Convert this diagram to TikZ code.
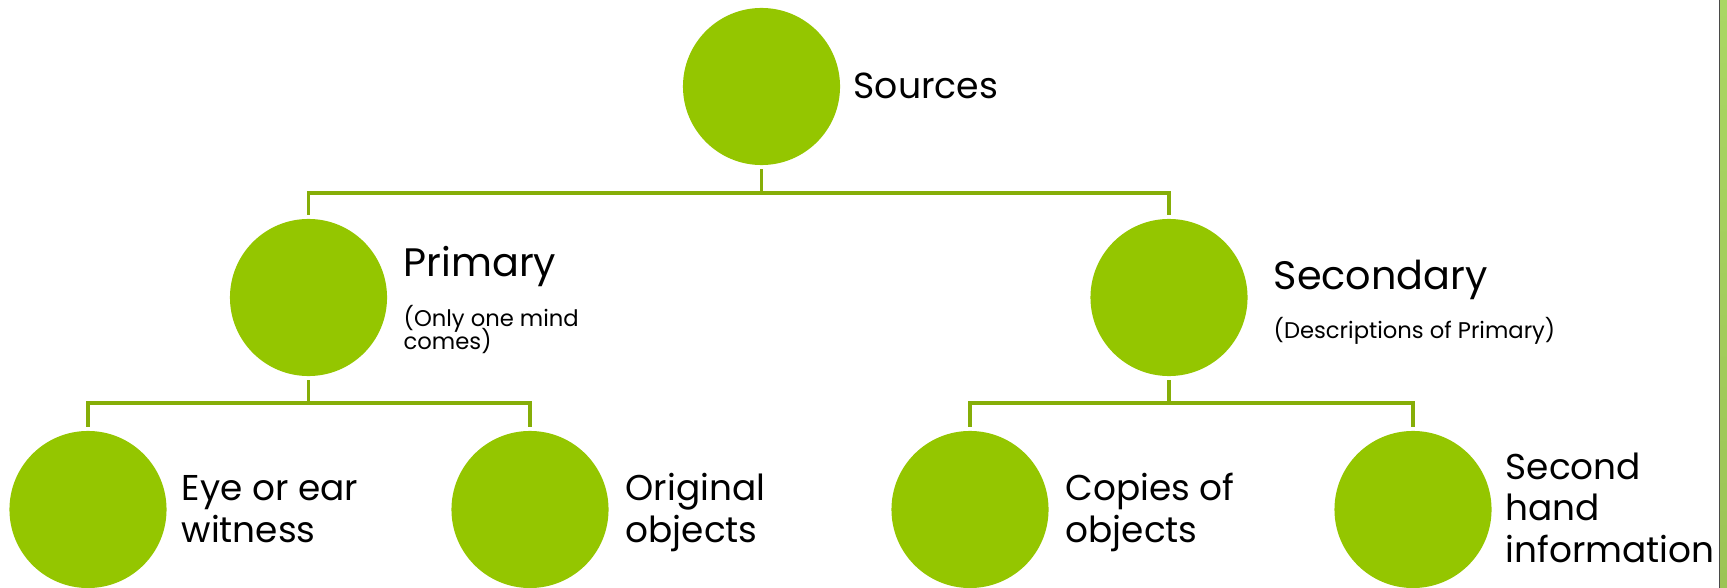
\documentclass[tikz,border=0pt]{standalone}
\usepackage{fontspec}
\setmainfont{Poppins}
\definecolor{leaf}{HTML}{94C600}
\definecolor{stemc}{HTML}{86AE08}
\definecolor{barA}{HTML}{AAD763}
\definecolor{barB}{HTML}{9CC455}
\definecolor{barline}{HTML}{4A4A4A}
\newcommand{\tightlines}{\lineskiplimit=-10pt\relax}
\begin{document}
\begin{tikzpicture}[x=0.01cm,y=-0.01cm,
  bubble/.style={circle,fill=leaf,minimum size=1.57cm,inner sep=0pt},
  link/.style={draw=stemc,line width=1pt},
  lbl/.style={anchor=base west,inner sep=0pt,align=left,text=black},
  big/.style={lbl,font=\fontsize{11.3}{13}\selectfont},
  top/.style={lbl,font=\fontsize{10.3}{13}\selectfont},
  small/.style={lbl,font=\fontsize{6.45}{6.55}\selectfont\tightlines},
  leafl/.style={lbl,font=\fontsize{10.2}{11.8}\selectfont\tightlines}]
\useasboundingbox (0,0) rectangle (1727,588);
% right edge bar
\shade[top color=barA,bottom color=barB] (1719,0) rectangle (1727,588);
\draw[barline,line width=0.4pt] (1719.3,0) -- (1719.3,588);
% bubbles
\node[bubble] (src) at (761.5,86.5) {};
\node[bubble] (pri) at (308.5,297.5) {};
\node[bubble] (sec) at (1169,297.5) {};
\node[bubble] (eye) at (88,509.5) {};
\node[bubble] (orig) at (530,509.5) {};
\node[bubble] (copy) at (970,509.5) {};
\node[bubble] (hand) at (1413,509.5) {};
% buses
\coordinate (busA) at (0,193);
\coordinate (busB) at (0,403);
\draw[link] ([yshift=-1pt]src.south) -- (src.south |- busA);
\draw[link] ([yshift=1pt]pri.north) |- (sec.north |- busA) -- ([yshift=1pt]sec.north);
\draw[link] ([yshift=-1pt]pri.south) -- (pri.south |- busB);
\draw[link] ([yshift=1pt]eye.north) |- (orig.north |- busB) -- ([yshift=1pt]orig.north);
\draw[link] ([yshift=-1pt]sec.south) -- (sec.south |- busB);
\draw[link] ([yshift=1pt]copy.north) |- (hand.north |- busB) -- ([yshift=1pt]hand.north);
% labels (multi-line nodes: base = last line)
\node[top] (tsrc) at (853,99) {Sources};
\node[big] (tpri) at (403,277) {Primary};
\node[small] (spri) at (403,350) {(Only one mind\\comes)};
\node[big] (tsec) at (1273,290) {Secondary};
\node[small] (ssec) at (1273,338) {(Descriptions of Primary)};
\node[leafl] (teye) at (181,542) {Eye or ear\\witness};
\node[leafl] (torig) at (625,542) {Original\\objects};
\node[leafl] (tcopy) at (1065,542) {Copies of\\objects};
\node[leafl] (thand) at (1505,562) {Second\\hand\\information};
\end{tikzpicture}
\end{document}
